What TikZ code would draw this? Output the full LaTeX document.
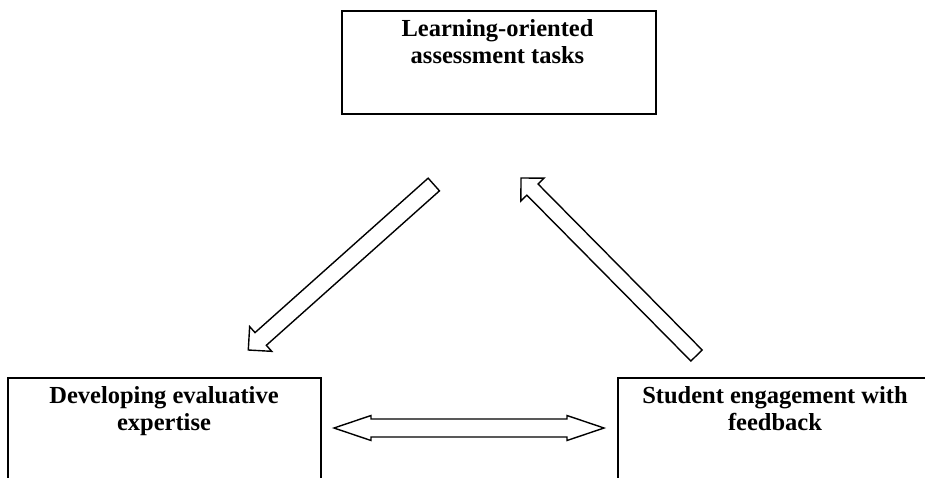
\documentclass[tikz,border=0pt]{standalone}
\usepackage{fontspec}
\setmainfont{Liberation Serif}
\usetikzlibrary{calc}
\tikzset{
  box/.style={draw=black, line width=1.6pt, fill=white, anchor=north west, inner sep=0pt},
  title/.style={font=\bfseries\fontsize{24.5}{27}\selectfont, align=center, inner sep=0pt},
  blockline/.style={draw=black, line width=1.4pt, fill=white, line join=miter},
}
% #1 tail, #2 tip, #3 half shaft width, #4 half head width, #5 head length
\newcommand\blockarrow[5]{%
  \coordinate (hb) at ($(#2)!#5!(#1)$);
  \draw[blockline] ($(#1)!#3!90:(#2)$) -- ($(hb)!#3!90:(#2)$) -- ($(hb)!#4!90:(#2)$)
    -- (#2) -- ($(hb)!#4!-90:(#2)$) -- ($(hb)!#3!-90:(#2)$) -- ($(#1)!#3!-90:(#2)$) -- cycle;
}
\newcommand\dblarrow[5]{%
  \coordinate (ha) at ($(#1)!#5!(#2)$);
  \coordinate (hb) at ($(#2)!#5!(#1)$);
  \draw[blockline] (#1) -- ($(ha)!#4!90:(#2)$) -- ($(ha)!#3!90:(#2)$) -- ($(hb)!#3!90:(#2)$)
    -- ($(hb)!#4!90:(#2)$) -- (#2) -- ($(hb)!#4!-90:(#2)$) -- ($(hb)!#3!-90:(#2)$)
    -- ($(ha)!#3!-90:(#2)$) -- ($(ha)!#4!-90:(#2)$) -- cycle;
}
\begin{document}
\begin{tikzpicture}[x=1pt, y=-1pt]
  \useasboundingbox (0,0) rectangle (925,477);
  \clip (0,0) rectangle (925,477);
  \fill[white] (0,0) rectangle (925,477);
  % boxes
  \node[box, minimum width=314pt, minimum height=103pt] (tasks) at (341,10) {};
  \node[box, minimum width=313pt, minimum height=140pt] (develop) at (7,377) {};
  \node[box, minimum width=340pt, minimum height=140pt] (engage) at (617,377) {};
  % titles (anchor base = baseline of last line)
  \node[title, anchor=base] (tasksT) at (497.5,63) {Learning-oriented\\assessment tasks};
  \node[title, anchor=base] (developT) at (164,430) {Developing evaluative\\expertise};
  \node[title, anchor=base] (engageT) at (775,430) {Student engagement with\\feedback};
  % arrow end points
  \coordinate (a1s) at (433.8,184.5);
  \coordinate (a1e) at (248.3,350);
  \coordinate (a2s) at (696.5,355.5);
  \coordinate (a2e) at (521,178);
  \coordinate (a3s) at (334,428);
  \coordinate (a3e) at (604,428);
  \blockarrow{a1s}{a1e}{8.5pt}{16.6pt}{16.6pt}
  \blockarrow{a2s}{a2e}{7.9pt}{16.3pt}{16.3pt}
  \dblarrow{a3s}{a3e}{9pt}{12.5pt}{37pt}
\end{tikzpicture}
\end{document}
